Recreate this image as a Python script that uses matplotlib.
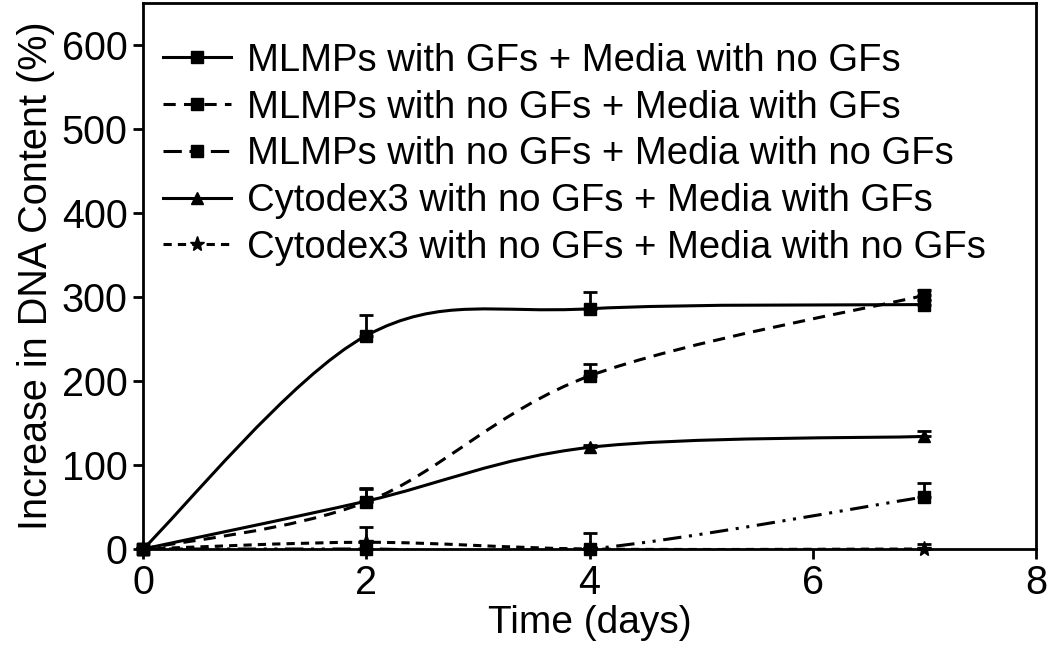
import numpy as np
import matplotlib.pyplot as plt
from matplotlib.path import Path
from matplotlib.patches import PathPatch
from matplotlib.lines import Line2D

plt.rcParams['font.family'] = ['Liberation Sans', 'DejaVu Sans']

# data
days = [0, 2, 4, 7]

labels = [
    "MLMPs with GFs + Media with no GFs",
    "MLMPs with no GFs + Media with GFs",
    "MLMPs with no GFs + Media with no GFs",
    "Cytodex3 with no GFs + Media with GFs",
    "Cytodex3 with no GFs + Media with no GFs",
]

mlmp_gf_nomedia = [0, 254, 286, 291]
mlmp_gf_nomedia_err = [0, 24, 20, 5]

mlmp_nogf_media = [0, 56, 206, 302]
mlmp_nogf_media_err = [0, 17, 14, 6]

mlmp_nogf_nomedia = [0, 0, 0, 62]
mlmp_nogf_nomedia_err = [0, 0, 19, 17]

cyto_nogf_media = [0, 57, 121, 134]
cyto_nogf_media_err = [0, 14, 3, 6]

cyto_nogf_nomedia = [0, 8, 0, 0]
cyto_nogf_nomedia_err = [0, 18, 0, 6]

series = [
    (mlmp_gf_nomedia, mlmp_gf_nomedia_err, 's', '-'),
    (mlmp_nogf_media, mlmp_nogf_media_err, 's', (0, (4, 2.7))),
    (mlmp_nogf_nomedia, mlmp_nogf_nomedia_err, 's', (0, (6, 2.5, 1, 2.5, 1, 2.5))),
    (cyto_nogf_media, cyto_nogf_media_err, '^', '-'),
    (cyto_nogf_nomedia, cyto_nogf_nomedia_err, '*', (0, (2.7, 2))),
]


def smooth_path(x, y):
    # Excel-like smoothed line: cubic Bezier segments between the points
    pts = np.column_stack([x, y]).astype(float)
    n = len(pts)
    verts = [pts[0]]
    codes = [Path.MOVETO]
    for i in range(n - 1):
        p0 = pts[max(i - 1, 0)]
        p1 = pts[i]
        p2 = pts[i + 1]
        p3 = pts[min(i + 2, n - 1)]
        verts += [p1 + (p2 - p0) / 6, p2 - (p3 - p1) / 6, p2]
        codes += [Path.CURVE4] * 3
    return Path(verts, codes)


fig = plt.figure(figsize=(10.5, 6.48), dpi=100)
ax = fig.add_axes([143 / 1050, 1 - 549 / 648, (1036 - 143) / 1050, (549 - 3) / 648])

lw = 2.2
handles = []
for (y, err, m, ls), lab in zip(series, labels):
    ax.add_patch(PathPatch(smooth_path(days, y), fill=False, edgecolor='black',
                           linewidth=lw, linestyle=ls, capstyle='butt'))
    ax.errorbar(days, y, yerr=[np.zeros(len(err)), err], fmt=m, color='black',
                ms=9 if m != '*' else 11, capsize=5, elinewidth=2, capthick=2,
                clip_on=False, zorder=3)
    handles.append(Line2D([], [], color='black', lw=lw, ls=ls, marker=m,
                          ms=9 if m != '*' else 11, dash_capstyle='butt'))

ax.set_xlim(0, 8)
ax.set_ylim(0, 650)
ax.set_xticks([0, 2, 4, 6, 8])
ax.set_yticks([0, 100, 200, 300, 400, 500, 600])
ax.tick_params(direction='out', length=7, width=2, labelsize=28.5, pad=4)
for s in ax.spines.values():
    s.set_linewidth(2)

ax.set_xlabel("Time (days)", fontsize=28, labelpad=2)
ax.set_ylabel("Increase in DNA Content (%)", fontsize=28.5, labelpad=5)

ax.legend(handles, labels, loc='upper left', bbox_to_anchor=(0.005, 0.955),
          frameon=False, fontsize=27.5, handlelength=1.8, handletextpad=0.4,
          labelspacing=0.28, borderaxespad=0)

fig.savefig("out.png", dpi=100)
